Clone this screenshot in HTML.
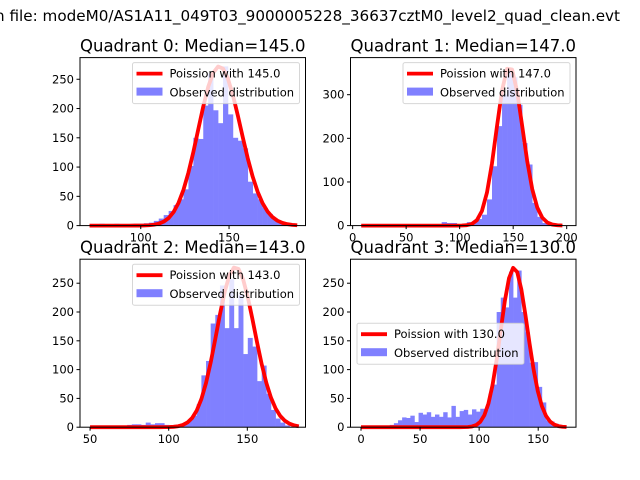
<!DOCTYPE html>
<html><head><meta charset="utf-8"><style>
body{margin:0;background:#fff;width:640px;height:480px;overflow:hidden}
svg{display:block;font-family:"DejaVu Sans","Liberation Sans",sans-serif}
</style></head><body>
<svg id="fig" width="640" height="480" viewBox="0 0 640 480">
<text x="-5" y="21" font-size="15.2">n file: modeM0/AS1A11_049T03_9000005228_36637cztM0_level2_quad_clean.evt</text>
</svg>
<script>
// Quadrant 0
const q0Counts=[2,2,3,2,2,3,2,2,2,3,3,4,5,8,12,18,25,35,45,62,102,150,148,205,260,197,175,272,190,150,145,132,75,55,45,30,20,12,6,3,2,1];
const q0Lambda=145, q0Peak=272;
// Quadrant 1
const q1Counts=[1,1,1,1,1,1,1,1,1,1,1,1,1,1,1,1,8,6,6,3,3,8,8,15,25,60,136,228,300,358,340,277,189,140,52,20,6,2,1,1];
const q1Lambda=147, q1Peak=365;
// Quadrant 2
const q2Counts=[1,1,1,1,2,1,2,2,4,5,5,4,8,5,7,7,4,3,4,5,6,12,20,40,90,115,180,195,246,172,257,172,230,127,155,140,80,107,58,30,15,8,3,1,1];
const q2Lambda=143, q2Peak=278;
// Quadrant 3
const q3Counts=[0,0,0,0,0,1,2,4,7,12,17,16,20,9,25,22,26,18,22,18,26,17,37,18,28,30,22,31,27,32,30,58,74,200,225,208,270,225,272,200,165,112,113,70,43,12,10,6,2,1];
const q3Lambda=130, q3Peak=277;
const titles=["Quadrant 0: Median=145.0","Quadrant 1: Median=147.0","Quadrant 2: Median=143.0","Quadrant 3: Median=130.0"];
const xTicks=[[100,150],[0,50,100,150,200],[50,100,150],[0,50,100,150]];
const yTicks=[[0,50,100,150,200,250],[0,100,200,300],[0,50,100,150,200,250],[0,50,100,150,200,250]];

const NS="http://www.w3.org/2000/svg";
const svg=document.getElementById('fig');
function mk(tag,attrs,parent){const e=document.createElementNS(NS,tag);for(const k in attrs)e.setAttribute(k,attrs[k]);(parent||svg).appendChild(e);return e;}
const panels=[
 {counts:q0Counts,lam:q0Lambda,peak:q0Peak,bs:71,bw:2.8,xmin:65.6,xmax:193.3,ymax:287,box:[80,57.6],leg:"ur"},
 {counts:q1Counts,lam:q1Lambda,peak:q1Peak,bs:8,bw:4.7,xmin:-2,xmax:208.7,ymax:385,box:[350.5,57.6],leg:"ur"},
 {counts:q2Counts,lam:q2Lambda,peak:q2Peak,bs:50,bw:2.95,xmin:43.6,xmax:187,ymax:291.7,box:[80,259.2],leg:"ur"},
 {counts:q3Counts,lam:q3Lambda,peak:q3Peak,bs:0,bw:3.48,xmin:-8.9,xmax:182,ymax:291.7,box:[350.5,259.2],leg:"cl"}
];
const W=225.5,H=168;
function logGamma(z){return (z-0.5)*Math.log(z)-z+0.5*Math.log(2*Math.PI)+1/(12*z);}
function pois(k,l){return Math.exp(k*Math.log(l)-l-logGamma(k+1));}
panels.forEach((p,pi)=>{
  const [L,T]=p.box;
  const g=mk('g',{});
  
  
  const sx=v=>L+(v-p.xmin)/(p.xmax-p.xmin)*W;
  const sy=v=>T+H-v/p.ymax*H;
  p.counts.forEach((c,i)=>{
    if(c<=0)return;
    const x0=sx(p.bs+i*p.bw),x1=sx(p.bs+(i+1)*p.bw);
    const r=mk('rect',{x:x0,y:sy(c),width:x1-x0+0.3,height:sy(0)-sy(c),fill:'#8080ff'},g);
    
    
  });
  const n=p.counts.length;
  const pm=pois(p.lam,p.lam);
  let pts=[];
  for(let i=0;i<=n;i++){const k=p.bs+i*p.bw;pts.push(sx(k).toFixed(2)+','+sy(p.peak*pois(Math.max(k,0.01),p.lam)/pm).toFixed(2));}
  const pl=mk('polyline',{points:pts.join(' '),fill:'none',stroke:'#ff0000','stroke-width':3.8,'stroke-linejoin':'round'},g);
  
  
  const fr=mk('rect',{x:L,y:T,width:W,height:H,fill:'none',stroke:'#000','stroke-width':1},g);
  
  
  xTicks[pi].forEach(v=>{
    const x=sx(v);
    mk('line',{x1:x,x2:x,y1:T+H,y2:T+H+3.5,stroke:'#000'},g);
    const t=mk('text',{x:x,y:T+H+16,'font-size':11.5,'text-anchor':'middle'},g);
    t.textContent=v;
    
    
  });
  yTicks[pi].forEach(v=>{
    const y=sy(v);
    mk('line',{x1:L-3.5,x2:L,y1:y,y2:y,stroke:'#000'},g);
    const t=mk('text',{x:L-6,y:y+4,'font-size':11.5,'text-anchor':'end'},g);
    t.textContent=v;
    
    
  });
  const tt=mk('text',{x:L+W/2,y:T-6,'font-size':16.5,'text-anchor':'middle'},g);
  tt.textContent=titles[pi];
  
  
  let lx,ly;
  if(p.leg==='ur'){lx=L+W-173;ly=T+5;}else{lx=L+6.5;ly=T+64;}
  const lg=mk('g',{},g);
  
  
  mk('rect',{x:lx,y:ly,width:167,height:41,rx:2,fill:'#fff','fill-opacity':0.8,stroke:'#ccc','stroke-opacity':0.8},lg);
  mk('line',{x1:lx+4,x2:lx+30,y1:ly+11,y2:ly+11,stroke:'#ff0000','stroke-width':3.8},lg);
  const t1=mk('text',{x:lx+37,y:ly+15,'font-size':11.5},lg);t1.textContent='Poission with '+p.lam.toFixed(1);
  
  
  mk('rect',{x:lx+4,y:ly+25,width:26,height:8,fill:'#8080ff'},lg);
  const t2=mk('text',{x:lx+37,y:ly+34,'font-size':11.5},lg);t2.textContent='Observed distribution';
  
  
});
</script>
</body></html>
